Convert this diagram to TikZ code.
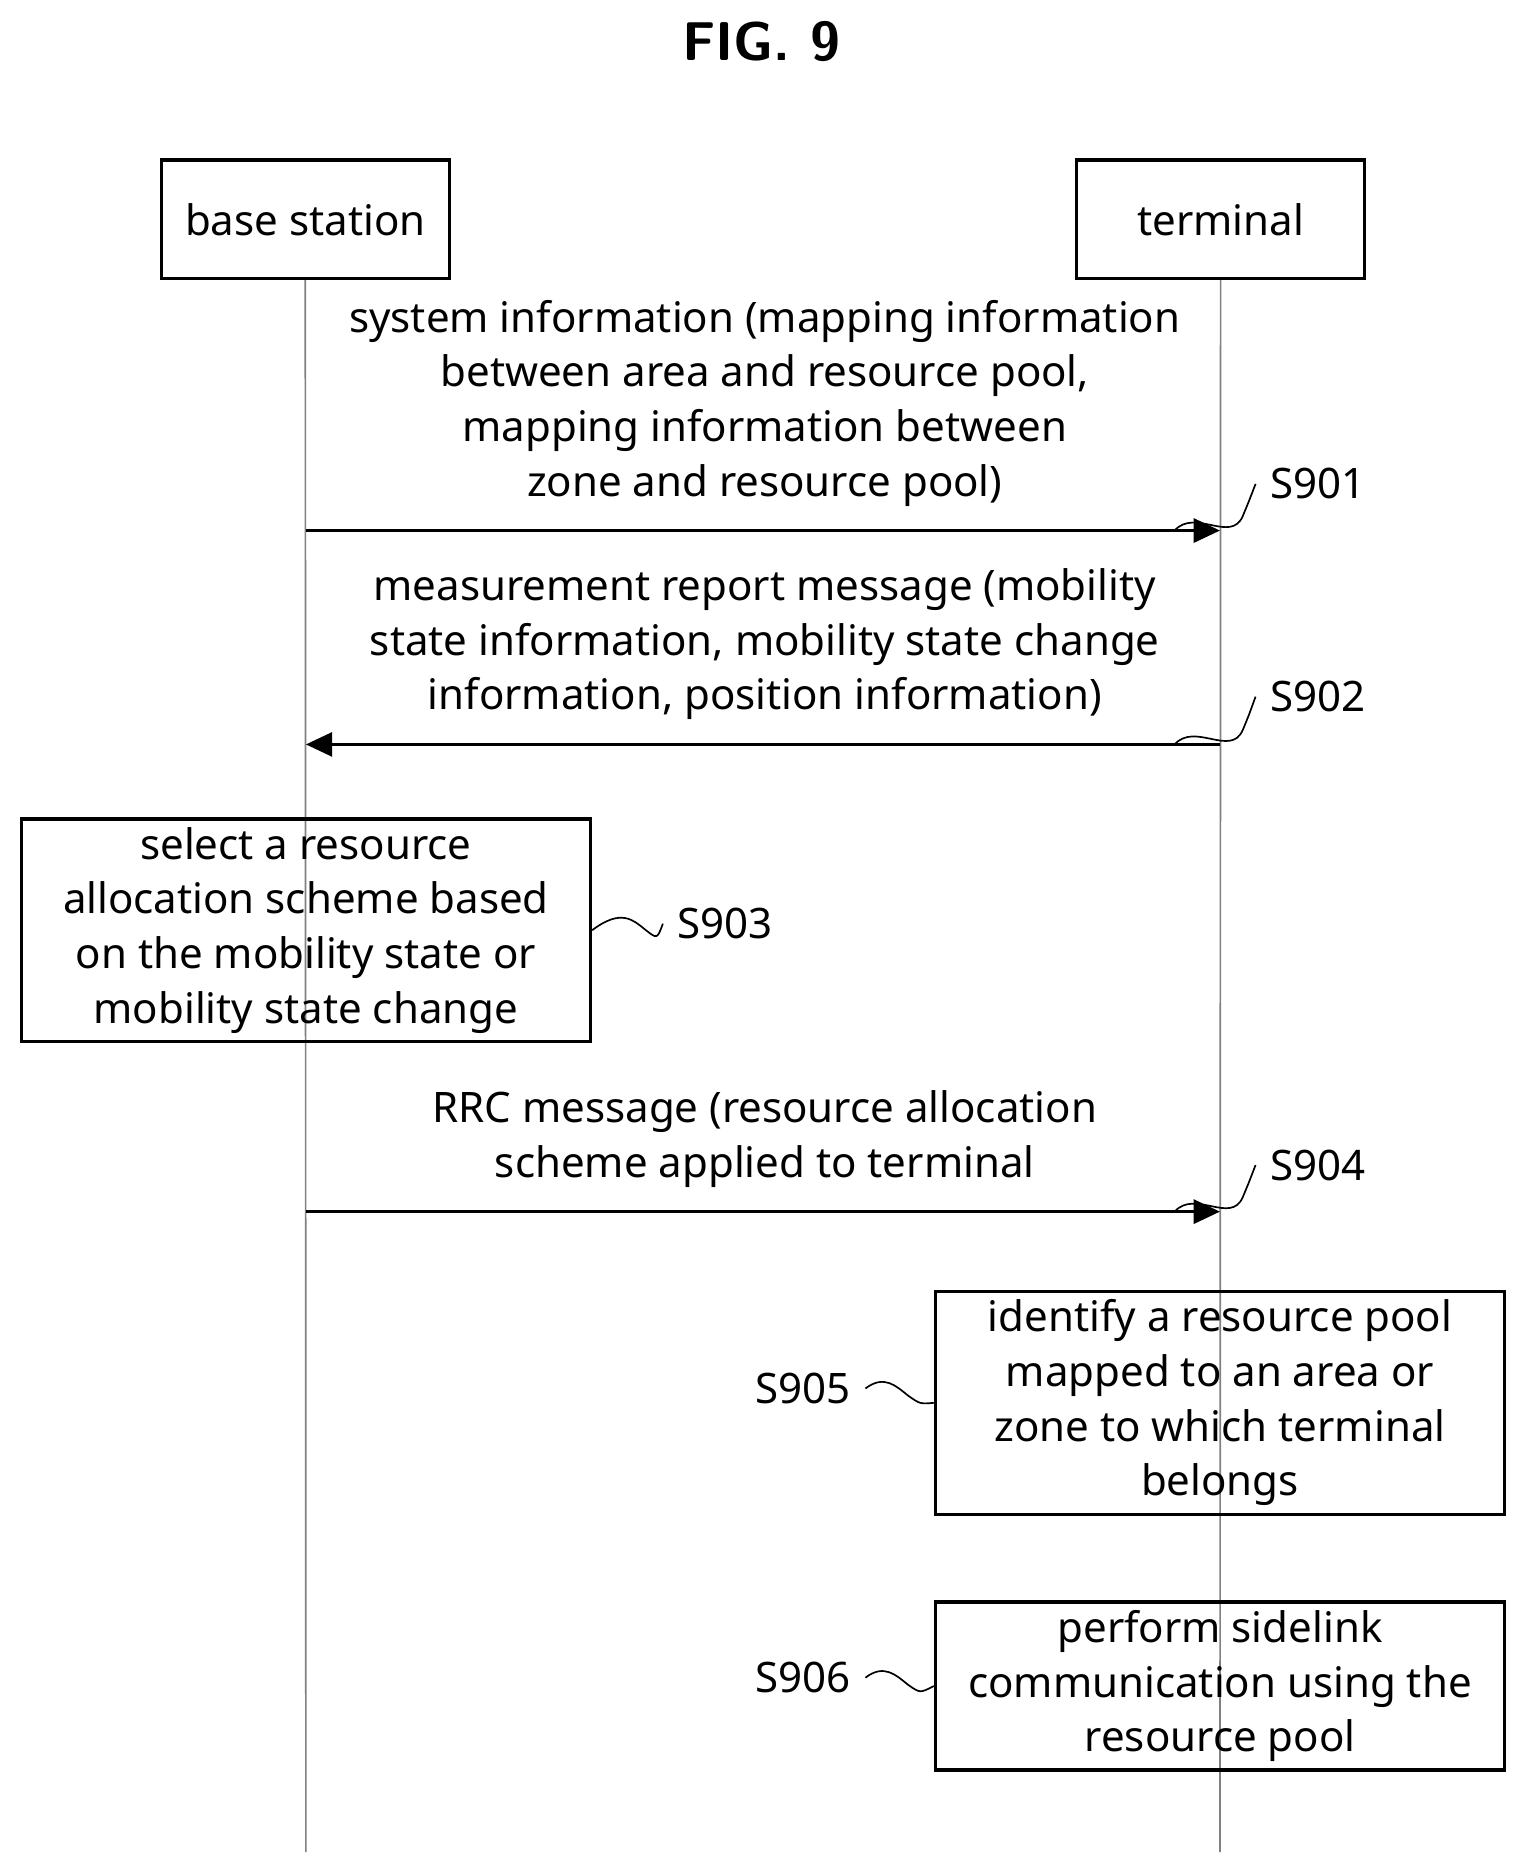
\documentclass[tikz,border=0pt]{standalone}
\usepackage{fontspec}
\setmainfont{Noto Sans}
\usetikzlibrary{arrows.meta,positioning}

\begin{document}
\begin{tikzpicture}[x=0.01cm,y=-0.01cm,
  actbox/.style={draw, thick, align=center, minimum width=4.76cm, font=\fontsize{10}{13}\selectfont, inner sep=2pt},
  msg/.style={align=center, anchor=south, font=\fontsize{10}{13}\selectfont},
  lbl/.style={font=\fontsize{10}{13}\selectfont},
  life/.style={gray, thin},
  arr/.style={thick, -{Triangle[length=2.2mm,width=2mm]}},
  wave/.style={thin}]
\useasboundingbox (0,0) rectangle (1280,1570);
% title
\node[font=\sffamily\bfseries\fontsize{13}{15}\selectfont] (title) at (637,35) {FIG. 9};
% participants
\node[draw, thick, minimum width=2.41cm, minimum height=0.99cm, lbl] (bs) at (255.5,183.5) {base station};
\node[draw, thick, minimum width=2.41cm, minimum height=0.99cm, lbl] (ue) at (1021.5,183.5) {terminal};
\coordinate (bsend) at (256,1550);
\coordinate (ueend) at (1021,1550);
\draw[life] (bs.south) -- (bsend);
\draw[life] (ue.south) -- (ueend);
% S901
\coordinate (a1s) at (256,444);
\coordinate (a1e) at (1021,444);
\draw[arr] (a1s) -- (a1e);
\node[msg] (m1) at (640,436) {system information (mapping information\\between area and resource pool,\\mapping information between\\zone and resource pool)};
\node[lbl] (s901) at (1103,405) {S901};
\draw[wave] (983,444) .. controls (1000,425) and (1030,455) .. (1040,432) .. controls (1045,420) .. (s901.west);
% S902
\coordinate (a2s) at (1021,623);
\coordinate (a2e) at (256,623);
\draw[arr] (a2s) -- (a2e);
\node[msg] (m2) at (640,615) {measurement report message (mobility\\state information, mobility state change\\information, position information)};
\node[lbl] (s902) at (1103,583) {S902};
\draw[wave] (983,623) .. controls (1000,604) and (1030,634) .. (1040,611) .. controls (1045,599) .. (s902.west);
% S903
\node[actbox] (b3) at (256,778.5) {select a resource\\allocation scheme based\\on the mobility state or\\mobility state change};
\node[lbl] (s903) at (607,773) {S903};
\draw[wave] (b3.east) .. controls (520,760) and (530,770) .. (540,778) .. controls (550,786) .. (s903.west);
% S904
\coordinate (a4s) at (256,1014);
\coordinate (a4e) at (1021,1014);
\draw[arr] (a4s) -- (a4e);
\node[msg] (m4) at (640,1006) {RRC message (resource allocation\\scheme applied to terminal};
\node[lbl] (s904) at (1103,975) {S904};
\draw[wave] (983,1014) .. controls (1000,995) and (1030,1025) .. (1040,1002) .. controls (1045,990) .. (s904.west);
% S905
\node[actbox] (b5) at (1021,1174) {identify a resource pool\\mapped to an area or\\zone to which terminal\\belongs};
\node[lbl] (s905) at (672,1162) {S905};
\draw[wave] (s905.east) .. controls (740,1150) and (750,1160) .. (760,1168) .. controls (770,1175) .. (b5.west);
% S906
\node[actbox] (b6) at (1021,1411) {perform sidelink\\communication using the\\resource pool};
\node[lbl] (s906) at (672,1404) {S906};
\draw[wave] (s906.east) .. controls (740,1392) and (750,1402) .. (760,1410) .. controls (770,1417) .. (b6.west);
\end{tikzpicture}
\end{document}
